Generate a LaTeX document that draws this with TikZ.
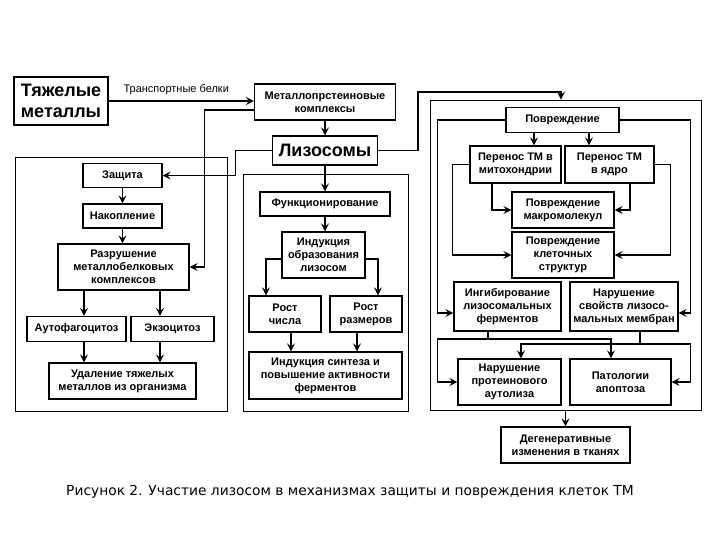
\documentclass[tikz,border=0pt]{standalone}
\usepackage{fontspec}
\setmainfont{Liberation Sans}
\newfontfamily\capfont{DejaVu Sans}
\usetikzlibrary{arrows.meta, positioning}

\begin{document}
\begin{tikzpicture}[x=1pt, y=-1pt, >={Stealth[length=8pt,width=8pt,inset=3pt]},
  box/.style={draw, line width=1.2pt, fill=white, align=center, inner sep=1pt,
              font=\bfseries\fontsize{11}{13}\selectfont},
  bigbox/.style={box, font=\bfseries\fontsize{18}{21}\selectfont},
  panel/.style={draw, line width=0.9pt},
  link/.style={->, line width=1.2pt}]

  \useasboundingbox (0,0) rectangle (720,540);

  \node[panel, minimum width=212pt, minimum height=254pt] (lfr) at (121,284) {};
  \node[panel, minimum width=165pt, minimum height=237pt] (mfr) at (325.5,292.5) {};
  \node[panel, minimum width=271pt, minimum height=310pt] (rfr) at (565.5,255) {};

  \node[bigbox, minimum width=94pt, minimum height=48pt] (tm) at (61,101) {Тяжелые\\металлы};
  \node[box, minimum width=141pt, minimum height=36pt] (mpk) at (325,102) {Металлопрстеиновые\\комплексы};
  \node[bigbox, minimum width=105pt, minimum height=29pt] (liz) at (325,150.5) {Лизосомы};

  \node[box, minimum width=79pt, minimum height=24pt] (zash) at (122.5,175.5) {Защита};
  \node[box, minimum width=79pt, minimum height=24pt] (nak) at (122.5,216) {Накопление};
  \node[box, minimum width=131pt, minimum height=46pt] (razr) at (123.5,267) {Разрушение\\металлобелковых\\комплексов};
  \node[box, minimum width=99pt, minimum height=25pt] (auto) at (76.5,329) {Аутофагоцитоз};
  \node[box, minimum width=83pt, minimum height=25pt] (exo) at (172.5,329) {Экзоцитоз};
  \node[box, minimum width=147pt, minimum height=36pt] (udal) at (122.5,381) {Удаление тяжелых\\металлов из организма};

  \node[box, minimum width=130pt, minimum height=24pt] (funk) at (325,204) {Функционирование};
  \node[box, minimum width=83pt, minimum height=46pt] (indo) at (323.5,255) {Индукция\\образования\\лизосом};
  \node[box, minimum width=72pt, minimum height=36pt] (rch) at (285,314) {Рост\\числа};
  \node[box, minimum width=72pt, minimum height=36pt] (rrz) at (366,314) {Рост\\размеров};
  \node[box, minimum width=153pt, minimum height=47pt] (isin) at (325.5,375.5) {Индукция синтеза и\\повышение активности\\ферментов};

  \node[box, minimum width=113pt, minimum height=25pt] (povr) at (562.5,120) {Повреждение};
  \node[box, minimum width=91pt, minimum height=37pt] (pmit) at (515.5,164.5) {Перенос ТМ в\\митохондрии};
  \node[box, minimum width=89pt, minimum height=37pt] (pyad) at (609.5,164.5) {Перенос ТМ\\в ядро};
  \node[box, minimum width=102pt, minimum height=36pt] (makr) at (563,210) {Повреждение\\макромолекул};
  \node[box, minimum width=102pt, minimum height=46pt] (klet) at (563,255) {Повреждение\\клеточных\\структур};
  \node[box, minimum width=107pt, minimum height=49pt] (ingib) at (507.5,306.5) {Ингибирование\\лизосомальных\\ферментов};
  \node[box, minimum width=108pt, minimum height=49pt] (nsv) at (624,306.5) {Нарушение\\свойств лизосо-\\мальных мембран};
  \node[box, minimum width=103pt, minimum height=46pt] (nprot) at (509.5,382) {Нарушение\\протеинового\\аутолиза};
  \node[box, minimum width=101pt, minimum height=46pt] (patol) at (620.5,382) {Патологии\\апоптоза};
  \node[box, minimum width=129pt, minimum height=36pt] (degen) at (565.5,445) {Дегенеративные\\изменения в тканях};

  \node[font=\capfont\fontsize{13.8}{16}\selectfont] (caption) at (350,492)
    {Рисунок 2. Участие лизосом в механизмах защиты и повреждения клеток ТМ};

  \coordinate (topbend) at (418,92);
  \coordinate (acol) at (84,0);
  \coordinate (ecol) at (160,0);
  \coordinate (ij) at (488,339);
  \coordinate (nj) at (640,344);

  \draw[link] (tm.east) -- (tm.east -| mpk.west)
    node[midway, above=2pt, xshift=-5pt, font=\fontsize{11}{12}\selectfont] (trlab) {Транспортные белки};
  \draw[link] (mpk) -- (liz);
  \draw[link] ([yshift=-8pt]mpk.west) -| ([xshift=15pt]razr.east) -- (razr.east);
  \draw[link] (liz.west) -| ([xshift=73pt]zash.east) -- (zash.east);
  \draw[link] (liz.east) -| (topbend) -| ([xshift=-4.5pt]rfr.north);

  \draw[link] (zash) -- (nak);
  \draw[link] (nak.south) -- (nak.south |- razr.north);
  \draw[link] (razr.south -| acol) -- (auto.north -| acol);
  \draw[link] (razr.south -| ecol) -- (exo.north -| ecol);
  \draw[link] (auto.south -| acol) -- (udal.north -| acol);
  \draw[link] (exo.south -| ecol) -- (udal.north -| ecol);

  \draw[link] (liz.south) -- (liz.south |- funk.north);
  \draw[link] (funk.south) -- (funk.south |- indo.north);
  \draw[link] ([yshift=-4pt]indo.west) -| ([xshift=-19pt]rch.north);
  \draw[link] ([yshift=-4pt]indo.east) -| ([xshift=12pt]rrz.north);
  \draw[link] ([xshift=6pt]rch.south) -- ([xshift=6pt]rch.south |- isin.north);
  \draw[link] ([xshift=-9pt]rrz.south) -- ([xshift=-9pt]rrz.south |- isin.north);

  \draw[link] ([xshift=-28.5pt]povr.south) -- ([xshift=-28.5pt]povr.south |- pmit.north);
  \draw[link] ([xshift=26.5pt]povr.south) -- ([xshift=26.5pt]povr.south |- pyad.north);
  \draw[link] (povr.west) -| ([xshift=-16pt,yshift=-6.5pt]ingib.west) -- ([yshift=-6.5pt]ingib.west);
  \draw[link] (povr.east) -| ([xshift=12pt,yshift=-6.5pt]nsv.east) -- ([yshift=-6.5pt]nsv.east);
  \draw[link] (pmit.west) -| ([xshift=-59pt]klet.west) -- (klet.west);
  \draw[link] (pyad.east) -| ([xshift=56pt]klet.east) -- (klet.east);
  \draw[link] ([xshift=-23.5pt]pmit.south) |- (makr.west);
  \draw[link] ([xshift=20.5pt]pyad.south) |- (makr.east);
  \draw[line width=1.2pt] (ingib.south -| ij) -- (ij);
  \draw[link] (ij) -| ([xshift=-20pt]nprot.west) -- (nprot.west);
  \draw[link] (ij) -| ([xshift=-9.5pt]patol.north);
  \draw[line width=1.2pt] (nsv.south -| nj) -- (nj);
  \draw[link] (nj) -| ([xshift=11.5pt]nprot.north);
  \draw[link] (nj) -| ([xshift=19pt]patol.east) -- (patol.east);
  \draw[link] (rfr.south) -- (rfr.south |- degen.north);
\end{tikzpicture}
\end{document}
